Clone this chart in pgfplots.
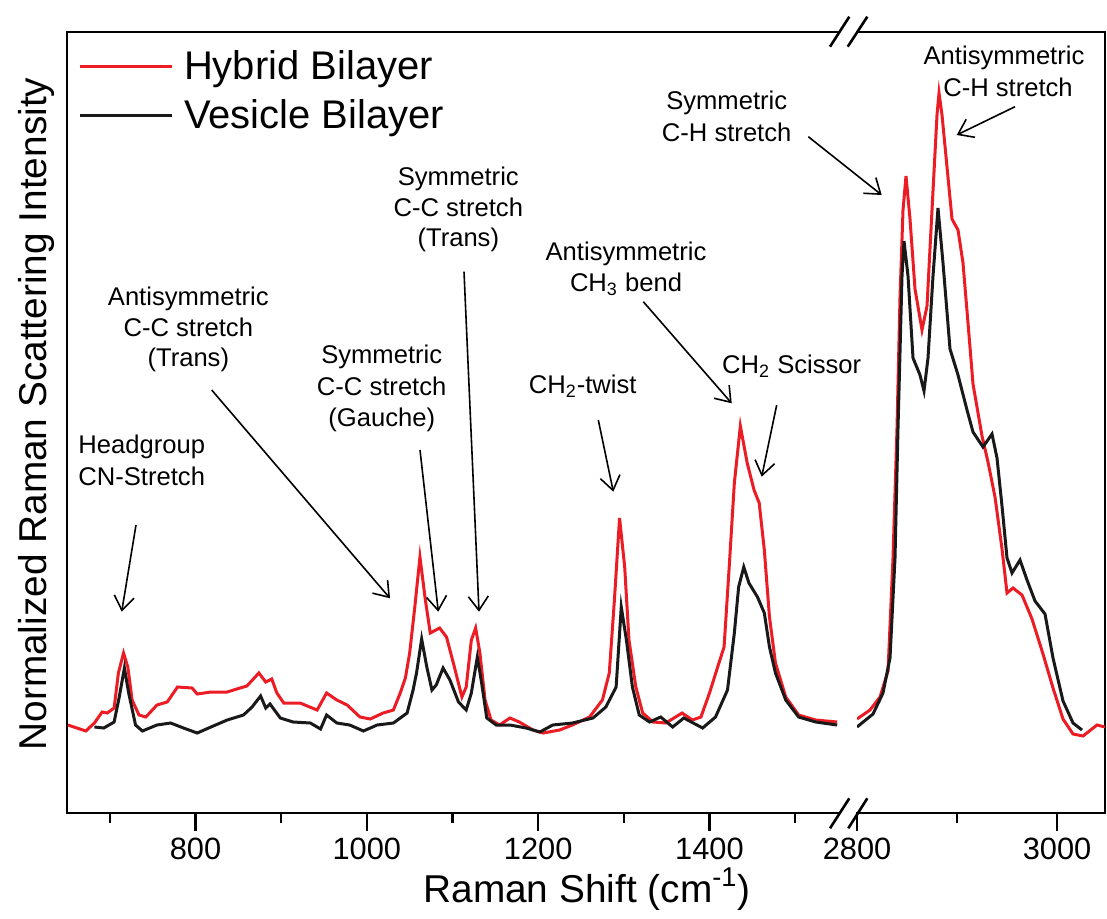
\documentclass[border=0pt]{standalone}
\usepackage{pgfplots}
\usepackage{pgfplotstable}
\pgfplotsset{compat=1.18}
\usepackage{fontspec}
\setmainfont{Liberation Sans}
\usetikzlibrary{arrows.meta}
\definecolor{myred}{RGB}{236,28,36}
\definecolor{myblack}{RGB}{25,25,25}

\pgfplotstableread{
v y
651 88
672 82
682 90
691 101
697 100
705 105
710 140
716 160
721 146
726 113
734 98
742 96
755 108
767 111
779 126
796 125
802 119
818 121
837 121
852 125
860 127
874 140
882 131
889 134
895 120
903 110
922 110
942 103
953 120
965 113
977 108
992 96
1004 94
1019 100
1031 103
1039 120
1045 135
1050 160
1056 206
1062 256
1068 215
1074 180
1085 185
1093 176
1101 150
1111 116
1116 126
1122 173
1127 185
1132 160
1138 113
1145 93
1155 88
1167 95
1178 91
1194 83
1206 80
1225 83
1240 88
1260 96
1275 113
1283 140
1289 213
1295 295
1301 246
1306 173
1314 126
1322 100
1334 91
1349 90
1368 100
1380 93
1390 96
1400 120
1411 150
1417 166
1423 246
1429 330
1436 387
1444 350
1452 323
1458 310
1464 263
1470 196
1477 150
1489 116
1504 98
1524 93
1549 91
}\redleft

\pgfplotstableread{
v y
682 86
693 85
705 91
711 116
717 145
722 120
730 88
738 82
755 88
771 90
786 85
802 80
818 86
837 93
856 98
866 106
876 117
882 105
887 109
899 95
914 91
934 90
946 84
953 98
965 90
980 88
996 82
1012 88
1031 90
1047 100
1054 123
1058 140
1064 174
1070 146
1076 123
1081 128
1089 145
1097 133
1107 111
1116 103
1122 120
1129 156
1134 130
1140 95
1151 88
1167 88
1186 85
1202 81
1217 88
1240 90
1264 95
1279 106
1291 126
1297 206
1303 173
1310 126
1318 98
1330 91
1343 96
1357 86
1370 95
1392 85
1407 96
1421 123
1429 180
1434 226
1440 246
1446 230
1456 216
1464 200
1470 166
1477 140
1489 113
1504 96
1524 91
1549 88
}\blackleft

\pgfplotstableread{
v y
2800 94
2813 103
2823 116
2831 142
2836 255
2840 385
2843 516
2846 603
2849 637
2853 594
2858 524
2865 483
2870 507
2875 603
2880 698
2882 720
2885 698
2890 646
2895 594
2901 583
2906 550
2911 490
2916 429
2925 377
2931 351
2938 316
2945 264
2950 220
2956 225
2965 218
2975 194
2986 159
2996 125
3006 94
3016 79
3026 77
3040 88
3048 86
}\redright

\pgfplotstableread{
v y
2800 86
2816 99
2826 120
2833 155
2838 255
2841 385
2845 537
2847 572
2851 537
2856 455
2863 438
2867 422
2871 455
2876 537
2881 605
2886 550
2893 464
2901 438
2910 403
2916 381
2926 366
2935 379
2940 355
2945 307
2950 255
2955 240
2963 253
2970 233
2978 212
2988 199
2996 155
3006 112
3016 90
3025 83
}\blackright

\pgfplotsset{brk/.style={
  scale only axis, height=390.5pt, ymin=0, ymax=781, ytick=\empty,
  axis x line*=bottom, tick align=outside,
  major tick length=8.75pt, minor tick length=5pt,
  tick style={line width=1.2pt, black},
  axis line style={-, line width=1.3pt, line cap=rect},
  tick label style={font=\fontsize{15.4}{18}\selectfont},
  /pgf/number format/assume math mode=true,
  /pgf/number format/1000 sep={},
}}
\newcommand{\annfont}{\fontsize{12.8}{15.8}\selectfont}
\newcommand{\ann}[3]{\node[anchor=base, font=\annfont, inner sep=0pt] at (#1,#2) {#3};}

\begin{document}
\begin{tikzpicture}
\begin{axis}[brk, name=L, at={(33.5pt,52.5pt)}, anchor=south west,
  width=385.5pt, xmin=650, xmax=1550, axis y line*=left,
  xtick={800,1000,1200,1400}, minor xtick={700,900,1100,1300,1500},
  legend style={at={(axis description cs:0.017,0.985)}, anchor=north west,
    xshift=-4pt, yshift=1pt,
    draw=none, fill=none, font=\fontsize{20}{24}\selectfont,
    row sep=4.5pt, column sep=3.5pt, cells={anchor=west}},
  legend image code/.code={\draw[#1, line width=1.5pt] (0pt,0pt) -- (45.8pt,0pt);},
]
\addplot[myred, line width=1.5pt] table[x=v, y=y] {\redleft};
\addlegendentry{Hybrid Bilayer}
\addplot[myblack, line width=1.5pt] table[x=v, y=y] {\blackleft};
\addlegendentry{Vesicle Bilayer}
\end{axis}
\begin{axis}[brk, name=R, at={(428.5pt,52.5pt)}, anchor=south west,
  width=124pt, xmin=2800, xmax=3048, axis y line*=right,
  xtick={2800,3000}, minor xtick={2900},
]
\addplot[myred, line width=1.5pt] table[x=v, y=y] {\redright};
\addplot[myblack, line width=1.5pt] table[x=v, y=y] {\blackright};
\end{axis}
\draw[line width=1.3pt, line cap=rect] (L.north west) -- (L.north east);
\draw[line width=1.3pt, line cap=rect] (R.north west) -- (R.north east);

\begin{scope}[x=0.5pt, y=-0.5pt, shift={(0pt,459pt)}]
% break marks
\draw[line width=1.3pt] (830,46.7) -- (849.3,16.7);
\draw[line width=1.3pt] (847.7,46.7) -- (867.3,16.7);
\draw[line width=1.3pt] (830,828.3) -- (849.3,798.3);
\draw[line width=1.3pt] (848.3,828.3) -- (867.3,798.3);
% axis labels
\node[rotate=90, anchor=base, inner sep=0pt, font=\fontsize{19.4}{23}\selectfont] at (47,414) {Normalized Raman Scattering Intensity};
\node[anchor=base, inner sep=0pt, font=\fontsize{19.4}{23}\selectfont] at (587,902) {Raman Shift (cm\textsuperscript{-1})};
% annotations
\ann{141.7}{453.3}{Headgroup}
\ann{141.7}{485}{CN-Stretch}
\ann{188.3}{305}{Antisymmetric}
\ann{188.3}{336.7}{C-C stretch}
\ann{188.3}{366.7}{(Trans)}
\ann{381.7}{363.3}{Symmetric}
\ann{381.7}{395}{C-C stretch}
\ann{381.7}{426.7}{(Gauche)}
\ann{458.3}{185}{Symmetric}
\ann{458.3}{216.7}{C-C stretch}
\ann{458.3}{246.7}{(Trans)}
\ann{582.7}{393}{CH\textsubscript{2}-twist}
\ann{626}{260}{Antisymmetric}
\ann{626}{291.7}{CH\textsubscript{3} bend}
\ann{791.7}{373}{CH\textsubscript{2} Scissor}
\ann{726.7}{110}{Symmetric}
\ann{726.7}{141.7}{C-H stretch}
\ann{1004}{65}{Antisymmetric}
\ann{1008}{96.7}{C-H stretch}
\begin{scope}[line width=0.8pt, -{Straight Barb[length=7pt, width=10pt]}]
\draw (136,525) -- (121.7,611.7);
\draw (211.7,390) -- (390,598.3);
\draw (420,450) -- (438.3,611.7);
\draw (464,271.7) -- (479,611.7);
\draw (598.3,420) -- (613.3,491.7);
\draw (643.3,301.7) -- (731.7,403.3);
\draw (776.7,405) -- (761.7,476.7);
\draw (808.3,136.7) -- (881.7,195);
\draw (1015,106.7) -- (956.7,135);
\end{scope}
\end{scope}
\pgfresetboundingbox
\useasboundingbox (0pt,0pt) rectangle (553.5pt,459pt);
\end{tikzpicture}
\end{document}
